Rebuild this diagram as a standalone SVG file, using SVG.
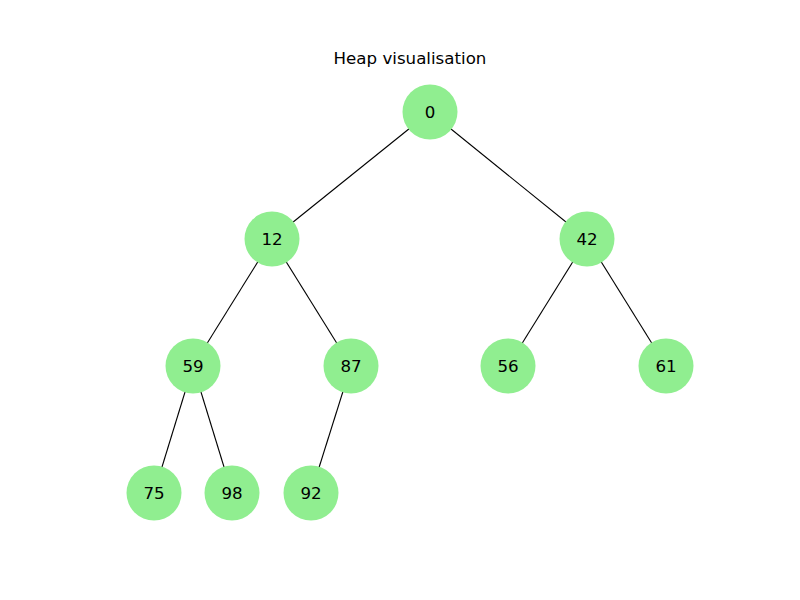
<svg xmlns="http://www.w3.org/2000/svg" width="800" height="600" viewBox="0 0 800 600">
<style>
.n{fill:#90EE90;stroke:none}
.t{font-family:"DejaVu Sans",sans-serif;font-size:16.67px;fill:#000;text-anchor:middle;dominant-baseline:central}
.e line{stroke:#000;stroke-width:1.1}
</style>
<rect width="800" height="600" fill="#fff"/>
<text class="t" x="410" y="58">Heap visualisation</text>
<g id="edges" class="e">
<line x1="430" y1="112" x2="272" y2="239"/>
<line x1="430" y1="112" x2="587" y2="239"/>
<line x1="272" y1="239" x2="193" y2="366"/>
<line x1="272" y1="239" x2="351" y2="366"/>
<line x1="587" y1="239" x2="508" y2="366"/>
<line x1="587" y1="239" x2="666" y2="366"/>
<line x1="193" y1="366" x2="154" y2="493"/>
<line x1="193" y1="366" x2="232" y2="493"/>
<line x1="351" y1="366" x2="311" y2="493"/>
</g>
<g id="n0"><circle class="n" cx="430" cy="112" r="27.5"/><text class="t" x="430" y="112">0</text></g>
<g id="n12"><circle class="n" cx="272" cy="239" r="27.5"/><text class="t" x="272" y="239">12</text></g>
<g id="n42"><circle class="n" cx="587" cy="239" r="27.5"/><text class="t" x="587" y="239">42</text></g>
<g id="n59"><circle class="n" cx="193" cy="366" r="27.5"/><text class="t" x="193" y="366">59</text></g>
<g id="n87"><circle class="n" cx="351" cy="366" r="27.5"/><text class="t" x="351" y="366">87</text></g>
<g id="n56"><circle class="n" cx="508" cy="366" r="27.5"/><text class="t" x="508" y="366">56</text></g>
<g id="n61"><circle class="n" cx="666" cy="366" r="27.5"/><text class="t" x="666" y="366">61</text></g>
<g id="n75"><circle class="n" cx="154" cy="493" r="27.5"/><text class="t" x="154" y="493">75</text></g>
<g id="n98"><circle class="n" cx="232" cy="493" r="27.5"/><text class="t" x="232" y="493">98</text></g>
<g id="n92"><circle class="n" cx="311" cy="493" r="27.5"/><text class="t" x="311" y="493">92</text></g>
</svg>
